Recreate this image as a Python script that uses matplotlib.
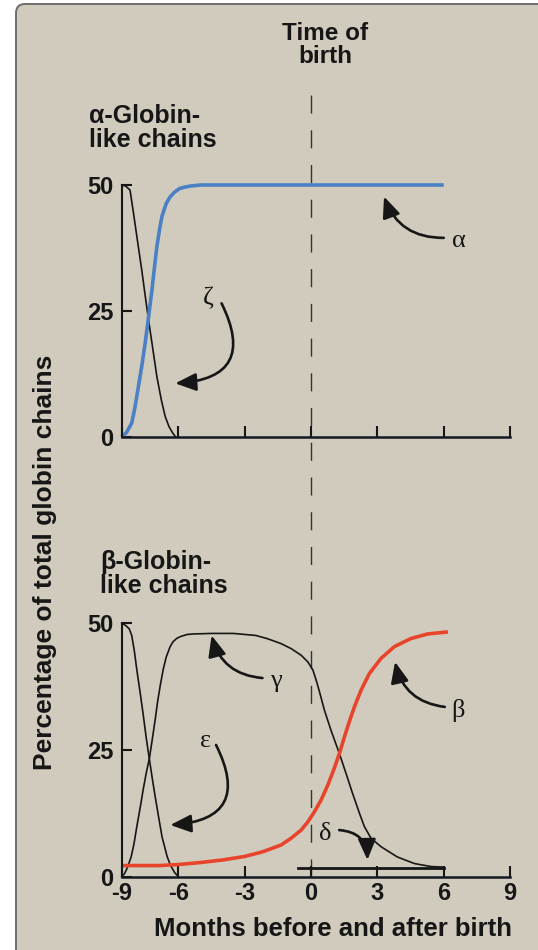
import numpy as np
import matplotlib
matplotlib.use("Agg")
import matplotlib.pyplot as plt
from matplotlib.patches import FancyBboxPatch
from matplotlib.transforms import IdentityTransform

# ---- data (months before/after birth, % of total globin chains)
# alpha-globin-like chains
zeta_months = [-9, -8.8, -8.56, -8.38, -8.15, -7.94, -7.74, -7.53, -7.33, -7.14, -6.9, -6.7,
               -6.5, -6.3, -6.16]
zeta_pct    = [50, 49.8, 49.0, 44.5, 38.5, 33.1, 27.5, 21.9, 16.8, 11.9, 7.2, 4.0,
               2.0, 0.7, 0]

alpha_months = [-9, -8.75, -8.47, -8.3, -8.12, -7.94, -7.76, -7.58, -7.40, -7.27, -7.14,
                -7.0, -6.87, -6.65, -6.43, -6.2, -5.95, -5.7, -5.45, -5.0, 6.0]
alpha_pct    = [0, 0.8, 2.7, 5.8, 9.9, 14.0, 18.6, 23.8, 29.2, 33.6, 37.8,
                41.2, 43.8, 46.3, 47.7, 48.6, 49.3, 49.6, 49.8, 50, 50]

# beta-globin-like chains
eps_months = [-9, -8.8, -8.6, -8.47, -8.33, -8.2, -8.02, -7.85, -7.7, -7.53, -7.38, -7.23,
              -7.05, -6.87, -6.6, -6.43, -6.2, -6.0]
eps_pct    = [50, 49.6, 48.9, 47.6, 44.5, 40.8, 36.2, 31.6, 27.3, 23.0, 19.3, 15.8,
              11.8, 7.9, 4.0, 2.3, 0.8, 0]

gamma_months = [-9, -8.85, -8.7, -8.5, -8.35, -8.2, -8.02, -7.85, -7.7, -7.53, -7.38, -7.23,
                -7.1, -6.95, -6.8, -6.65, -6.45, -6.3, -6.1, -5.9, -5.6, -5.3,
                -4.5, -3.5, -2.5, -2.0, -1.36, -0.9, -0.45, -0.15, 0.08, 0.23, 0.38,
                0.6, 0.9, 1.28, 1.58, 1.88, 2.19, 2.41, 2.71, 3.17, 3.9, 4.67, 5.43, 6.0]
gamma_pct    = [0, 0.6, 1.8, 3.9, 6.5, 9.9, 13.7, 17.5, 20.5, 23.5, 27.2, 31.0,
                34.6, 38.0, 41.0, 43.3, 45.3, 46.3, 47.0, 47.4, 47.8, 47.9,
                48.0, 48.0, 47.6, 47.0, 46.0, 45.0, 43.7, 42.4, 40.8, 38.8, 36.5,
                32.9, 28.9, 24.3, 20.4, 16.4, 12.5, 9.9, 7.6, 5.9, 3.9, 2.6, 2.0, 1.9]

beta_months = [-9, -8, -7, -6, -5, -4, -3, -2.2, -1.36, -0.9, -0.45, -0.15, 0.15, 0.45,
               0.76, 1.05, 1.28, 1.51, 1.73, 1.96, 2.26, 2.64, 3.17, 3.77, 4.52, 5.28, 6.19]
beta_pct    = [2.2, 2.2, 2.2, 2.4, 2.8, 3.3, 4.0, 4.9, 6.25, 7.6, 9.2, 10.8, 12.8, 15.1,
               18.1, 21.4, 24.3, 27.6, 30.6, 33.5, 36.8, 40.1, 43.1, 45.4, 47.0, 47.9, 48.3]

delta_months = [-0.6, 6.0]
delta_pct    = [1.65, 1.65]

month_ticks = [-9, -6, -3, 0, 3, 6, 9]
pct_ticks = [0, 25, 50]

W, H = 538, 950
plt.rcParams['axes.unicode_minus'] = False
sans = ['Liberation Sans', 'DejaVu Sans']
serif = ['Liberation Serif', 'DejaVu Serif']
ink = '#161616'
blue = '#4a80c4'
red = '#e8442c'

fig = plt.figure(figsize=(W / 100, H / 100), dpi=100)
fig.patch.set_facecolor('white')

# beige card with rounded corner behind everything
card = FancyBboxPatch((16, -20), 700, H - 4 + 20,
                      boxstyle='round,pad=0,rounding_size=9',
                      transform=IdentityTransform(), facecolor='#d0cbbd',
                      edgecolor='#6e6e6e', linewidth=1.4, zorder=-10)
fig.add_artist(card)

# the drawing squeezes the first trimester a little
K = 0.856
def squeeze(x):
    x = np.asarray(x, float)
    return np.where(x < -6, -6 + (x + 6) * K, x)
def unsqueeze(x):
    x = np.asarray(x, float)
    return np.where(x < -6, -6 + (x + 6) / K, x)

x0, x1 = 121.7, 510
ax_t = fig.add_axes([x0 / W, 1 - 436.7 / H, (x1 - x0) / W, (436.7 - 185) / H])
ax_b = fig.add_axes([x0 / W, 1 - 876.7 / H, (x1 - x0) / W, (876.7 - 623.3) / H])

for ax in (ax_t, ax_b):
    ax.set_facecolor('none')
    ax.set_xscale('function', functions=(squeeze, unsqueeze))
    ax.set_xlim(-9, 9)
    ax.set_ylim(0, 50)
    ax.spines['top'].set_visible(False)
    ax.spines['right'].set_visible(False)
    ax.spines['left'].set_linewidth(1.5)
    ax.spines['bottom'].set_linewidth(1.8)
    ax.spines['left'].set_color(ink)
    ax.spines['bottom'].set_color('#141a24')
    ax.set_xticks(month_ticks)
    ax.set_yticks(pct_ticks)
    ax.set_yticklabels([str(v) for v in pct_ticks], fontsize=17, fontweight='bold', family=sans)
    ax.tick_params(axis='y', direction='in', length=7, width=1.5, pad=6, colors=ink)
    ax.tick_params(axis='x', direction='in', length=8, width=1.5, pad=4, colors=ink)
    ax.minorticks_off()

ax_t.set_xticklabels([])
ax_b.set_xticklabels([str(v) for v in month_ticks], fontsize=17, fontweight='bold', family=sans)

# curves
ax_t.plot(zeta_months, zeta_pct, color=ink, lw=1.2, clip_on=False)
ax_t.plot(alpha_months, alpha_pct, color=blue, lw=2.6, clip_on=False, solid_capstyle='butt')

ax_b.plot(eps_months, eps_pct, color=ink, lw=1.2, clip_on=False)
ax_b.plot(gamma_months, gamma_pct, color=ink, lw=1.2, clip_on=False)
ax_b.plot(delta_months, delta_pct, color=ink, lw=2.0, clip_on=False)
ax_b.plot(beta_months, beta_pct, color=red, lw=2.6, clip_on=False, solid_capstyle='butt')

# time of birth dashed line through both panels
top_px = 87
ax_b.axvline(0, ymin=0, ymax=(876.7 - top_px) / (876.7 - 623.3), color='#333333',
             lw=1.0, ls=(0, (13, 12)), clip_on=False, zorder=1)

# greek labels with curved arrows
def tag(ax, label, pos, tail, head, rad):
    ax.text(pos[0], pos[1], label, fontsize=19, family=serif, ha='center', va='center', color=ink)
    ax.annotate('', xy=head, xytext=tail,
                arrowprops=dict(arrowstyle='-|>,head_length=0.7,head_width=0.3',
                                connectionstyle='arc3,rad=%s' % rad, lw=1.9,
                                color=ink, shrinkA=0, shrinkB=0, mutation_scale=18))

tag(ax_t, 'α', (6.7, 38.9), (6.0, 39.5), (3.3, 47.7), -0.35)
tag(ax_t, 'ζ', (-4.64, 27.5), (-4.05, 26.5), (-6.17, 10.6), -0.75)
tag(ax_b, 'γ', (-1.61, 38.6), (-2.2, 39.2), (-4.5, 47.6), -0.35)
tag(ax_b, 'ε', (-4.77, 26.8), (-4.3, 26.0), (-6.43, 10.2), -0.75)
tag(ax_b, 'β', (6.64, 32.7), (6.05, 33.5), (3.8, 42.4), -0.35)
tag(ax_b, 'δ', (0.64, 8.4), (1.27, 9.2), (2.55, 3.3), -0.45)

# texts
def fx(px): return px / W
def fy(py): return 1 - py / H

fig.text(fx(325), fy(22), 'Time of\nbirth', ha='center', va='top', fontsize=17.5,
         fontweight='bold', family=sans, linespacing=1.0, color=ink)
fig.text(fx(89), fy(104), 'α-Globin-\nlike chains', ha='left', va='top', fontsize=18,
         fontweight='bold', family=sans, linespacing=1.0, color=ink)
fig.text(fx(100), fy(550), 'β-Globin-\nlike chains', ha='left', va='top', fontsize=18,
         fontweight='bold', family=sans, linespacing=1.0, color=ink)
fig.text(fx(45), fy(562), 'Percentage of total globin chains', rotation=90, ha='center',
         va='center', fontsize=19, fontweight='bold', family=sans, color=ink)
fig.text(fx(333), fy(929), 'Months before and after birth', ha='center', va='center',
         fontsize=18.5, fontweight='bold', family=sans, color=ink)

fig.savefig('out.png', dpi=100)
